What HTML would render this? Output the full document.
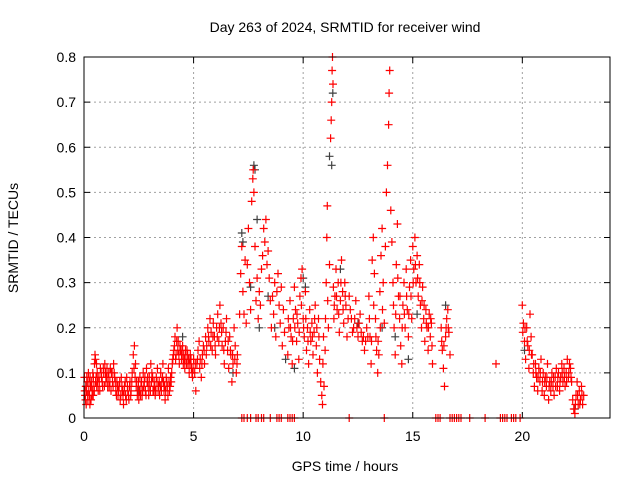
<!DOCTYPE html>
<html><head><meta charset="utf-8"><style>
body{margin:0;background:#fff;}
svg{display:block;font-family:"Liberation Sans",sans-serif;}
</style></head><body>
<svg id="chart" width="640" height="480">
<text x="345" y="32" font-size="14" text-anchor="middle">Day 263 of 2024, SRMTID for receiver wind</text>
<text x="18" y="238" font-size="14" text-anchor="middle" transform="rotate(-90 18 238)">SRMTID / TECUs</text>
<text x="345" y="471" font-size="14" text-anchor="middle">GPS time / hours</text>
<g id="grid"></g>
<g id="ticks"></g>
<g id="black"></g>
<g id="red"></g>
<g id="red2"></g>
<rect x="84" y="57" width="526" height="361" fill="none" stroke="#000" stroke-width="1"/>
</svg>
<script>
const xTicks=[0,5,10,15,20];
const yTicks=[0,0.1,0.2,0.3,0.4,0.5,0.6,0.7,0.8];
const yTickLabels=["0","0.1","0.2","0.3","0.4","0.5","0.6","0.7","0.8"];
const blackPoints=[[7.2,0.41],[7.25,0.39],[7.6,0.29],[7.75,0.56],[7.8,0.55],[7.9,0.44],[8.0,0.20],[8.4,0.27],[8.7,0.20],[9.2,0.13],[9.6,0.11],[10.0,0.31],[10.1,0.29],[11.2,0.58],[11.3,0.56],[11.35,0.72],[11.7,0.33],[12.5,0.21],[13.6,0.20],[14.2,0.18],[14.8,0.13],[15.2,0.23],[16.5,0.25],[0.1,0.07],[2.5,0.06],[4.5,0.18],[6.8,0.1],[20.1,0.15],[22.4,0.02]];
const redPoints=[
[0.02,0.09],[0.05,0.05],[0.08,0.07],[0.1,0.03],[0.12,0.06],[0.15,0.08],[0.18,0.04],[0.2,0.1],[0.22,0.06],[0.25,0.05],[0.28,0.09],[0.3,0.07],[0.32,0.04],[0.35,0.08],[0.38,0.06],[0.4,0.1],[0.42,0.05],[0.45,0.07],[0.48,0.12],[0.5,0.14],[0.52,0.13],[0.55,0.09],[0.58,0.07],[0.6,0.1],[0.65,0.06],[0.7,0.08],[0.75,0.11],[0.8,0.09],[0.85,0.07],[0.9,0.1],[0.95,0.12],[1.0,0.08],[1.05,0.11],[1.1,0.09],[1.15,0.07],[1.2,0.11],[1.25,0.1],[1.3,0.08],[1.35,0.12],[1.4,0.09],[1.45,0.06],[1.5,0.08],[1.55,0.05],[1.6,0.07],[1.65,0.04],[1.7,0.09],[1.75,0.06],[1.8,0.03],[1.85,0.07],[1.9,0.05],[1.95,0.09],[2.0,0.06],[2.05,0.04],[2.1,0.08],[2.15,0.06],[2.2,0.1],[2.25,0.14],[2.3,0.16],[2.35,0.12],[2.4,0.08],[2.45,0.06],[2.5,0.04],[2.55,0.09],[2.6,0.07],[2.65,0.05],[2.7,0.1],[2.75,0.08],[2.8,0.06],[2.85,0.11],[2.9,0.09],[2.95,0.05],[3.0,0.07],[3.05,0.12],[3.1,0.1],[3.15,0.06],[3.2,0.08],[3.25,0.05],[3.3,0.09],[3.35,0.11],[3.4,0.07],[3.45,0.05],[3.5,0.1],[3.55,0.08],[3.6,0.12],[3.65,0.06],[3.7,0.04],[3.75,0.09],[3.8,0.07],[3.85,0.11],[3.9,0.06],[3.95,0.09],[4.0,0.1],[4.05,0.13],[4.1,0.15],[4.15,0.18],[4.2,0.14],[4.25,0.2],[4.3,0.17],[4.35,0.12],[4.4,0.15],[4.45,0.13],[4.5,0.16],[4.55,0.14],[4.6,0.11],[4.65,0.13],[4.7,0.15],[4.75,0.12],[4.8,0.1],[4.85,0.14],[4.9,0.11],[4.95,0.09],[5.0,0.13],[5.05,0.1],[5.1,0.06],[5.15,0.12],[5.2,0.15],[5.25,0.17],[5.3,0.13],[5.35,0.09],[5.4,0.14],[5.45,0.16],[5.5,0.12],[5.55,0.18],[5.6,0.16],[5.65,0.2],[5.7,0.17],[5.75,0.22],[5.8,0.19],[5.85,0.15],[5.9,0.21],[5.95,0.18],[6.0,0.14],[6.05,0.2],[6.1,0.23],[6.15,0.17],[6.2,0.25],[6.25,0.21],[6.3,0.16],[6.35,0.2],[6.4,0.12],[6.45,0.17],[6.5,0.22],[6.55,0.15],[6.6,0.11],[6.65,0.18],[6.7,0.14],[6.75,0.08],[6.8,0.12],[6.85,0.2],[6.9,0.16],[6.95,0.1],[7.0,0.14],[7.1,0.23],[7.15,0.32],[7.2,0.38],[7.25,0.28],[7.3,0.23],[7.35,0.35],[7.4,0.21],[7.45,0.34],[7.5,0.42],[7.55,0.3],[7.6,0.24],[7.65,0.48],[7.7,0.53],[7.72,0.55],[7.75,0.5],[7.8,0.38],[7.85,0.26],[7.9,0.31],[7.95,0.22],[8.0,0.28],[8.05,0.25],[8.1,0.33],[8.15,0.36],[8.2,0.42],[8.25,0.39],[8.3,0.44],[8.35,0.34],[8.4,0.37],[8.45,0.31],[8.5,0.26],[8.55,0.2],[8.6,0.27],[8.65,0.23],[8.7,0.3],[8.75,0.18],[8.8,0.28],[8.85,0.32],[8.9,0.25],[8.95,0.21],[9.0,0.29],[9.05,0.16],[9.1,0.24],[9.15,0.19],[9.3,0.14],[9.35,0.2],[9.4,0.26],[9.45,0.18],[9.5,0.12],[9.55,0.22],[9.6,0.29],[9.65,0.24],[9.7,0.17],[9.75,0.21],[9.8,0.13],[9.85,0.27],[9.9,0.31],[9.95,0.33],[10.0,0.22],[10.05,0.18],[10.1,0.28],[10.15,0.15],[10.2,0.2],[10.25,0.12],[10.3,0.24],[10.35,0.17],[10.4,0.21],[10.45,0.14],[10.5,0.19],[10.55,0.25],[10.6,0.16],[10.65,0.1],[10.7,0.22],[10.75,0.13],[10.8,0.08],[10.85,0.05],[10.88,0.03],[10.9,0.12],[10.93,0.18],[10.95,0.07],[11.0,0.15],[11.02,0.22],[11.05,0.3],[11.08,0.4],[11.1,0.47],[11.12,0.26],[11.15,0.2],[11.2,0.34],[11.25,0.62],[11.28,0.66],[11.3,0.7],[11.32,0.77],[11.34,0.8],[11.36,0.74],[11.38,0.29],[11.4,0.22],[11.45,0.27],[11.5,0.33],[11.55,0.24],[11.6,0.3],[11.65,0.19],[11.7,0.26],[11.75,0.35],[11.8,0.28],[11.85,0.21],[11.9,0.3],[11.95,0.25],[12.0,0.18],[12.1,0.27],[12.2,0.22],[12.3,0.2],[12.4,0.26],[12.5,0.18],[12.6,0.23],[12.7,0.17],[12.8,0.15],[12.9,0.2],[13.0,0.27],[13.05,0.18],[13.1,0.12],[13.15,0.35],[13.2,0.4],[13.25,0.32],[13.3,0.22],[13.35,0.15],[13.4,0.1],[13.45,0.14],[13.5,0.28],[13.55,0.36],[13.6,0.42],[13.65,0.3],[13.7,0.21],[13.75,0.38],[13.8,0.5],[13.85,0.56],[13.9,0.65],[13.92,0.72],[13.95,0.77],[14.0,0.46],[14.05,0.39],[14.1,0.3],[14.15,0.2],[14.2,0.14],[14.25,0.34],[14.3,0.43],[14.35,0.27],[14.4,0.22],[14.45,0.16],[14.5,0.12],[14.55,0.25],[14.6,0.3],[14.65,0.2],[14.7,0.33],[14.75,0.24],[14.8,0.18],[14.85,0.29],[14.9,0.35],[14.95,0.22],[15.0,0.38],[15.05,0.33],[15.1,0.4],[15.15,0.3],[15.2,0.36],[15.25,0.27],[15.3,0.34],[15.35,0.25],[15.4,0.2],[15.45,0.29],[15.5,0.22],[15.55,0.17],[15.6,0.24],[15.65,0.2],[15.7,0.15],[15.75,0.23],[15.8,0.18],[15.85,0.21],[15.9,0.12],[16.3,0.2],[16.35,0.15],[16.4,0.11],[16.45,0.07],[16.5,0.18],[16.55,0.22],[16.6,0.24],[16.65,0.19],[16.7,0.14],[18.8,0.12],[20.0,0.25],[20.05,0.21],[20.1,0.17],[20.15,0.13],[20.2,0.2],[20.25,0.16],[20.3,0.11],[20.35,0.23],[20.4,0.18],[20.45,0.14],[20.5,0.1],[20.55,0.07],[20.6,0.12],[20.65,0.09],[20.7,0.06],[20.75,0.11],[20.8,0.08],[20.85,0.13],[20.9,0.06],[20.95,0.1],[21.0,0.05],[21.05,0.09],[21.1,0.07],[21.15,0.12],[21.2,0.04],[21.25,0.08],[21.3,0.06],[21.35,0.1],[21.4,0.07],[21.45,0.05],[21.5,0.09],[21.55,0.11],[21.6,0.07],[21.65,0.1],[21.7,0.06],[21.75,0.09],[21.8,0.12],[21.85,0.08],[21.9,0.11],[21.95,0.07],[22.0,0.1],[22.05,0.13],[22.1,0.09],[22.15,0.12],[22.2,0.11],[22.25,0.08],[22.3,0.04],[22.35,0.02],[22.4,0.01],[22.45,0.05],[22.5,0.08],[22.55,0.03],[22.6,0.06],[22.65,0.04],[22.7,0.07],[22.75,0.03],[22.8,0.05],
[7.2,0],[7.3,0],[7.45,0],[7.6,0],[7.85,0],[7.95,0],[8.1,0],[8.2,0],[8.5,0],[8.8,0],[8.9,0],[9.0,0],[9.3,0],[9.4,0],[9.5,0],[9.6,0],[12.1,0],[13.7,0],[16.05,0],[16.15,0],[16.25,0],[16.7,0],[16.8,0],[16.9,0],[17.0,0],[17.1,0],[17.2,0],[17.6,0],[18.3,0],[19.0,0],[19.1,0],[19.2,0],[19.3,0],[19.5,0],[19.6,0],[19.7,0],[19.9,0]
];
const redExtra=[
[0.03,0.06],[0.07,0.04],[0.13,0.09],[0.17,0.05],[0.23,0.08],[0.27,0.03],[0.33,0.07],[0.37,0.05],[0.43,0.09],[0.47,0.06],[0.53,0.08],[0.57,0.12],[0.62,0.08],[0.68,0.09],[0.72,0.06],[0.78,0.1],[0.83,0.08],[0.88,0.11],[0.93,0.07],[0.98,0.1],[1.03,0.09],[1.08,0.07],[1.13,0.1],[1.18,0.08],[1.23,0.06],[1.28,0.1],[1.33,0.07],[1.38,0.1],[1.43,0.08],[1.48,0.05],[1.53,0.07],[1.58,0.06],[1.63,0.08],[1.68,0.05],[1.73,0.07],[1.78,0.05],[1.83,0.06],[1.88,0.08],[1.93,0.04],[1.98,0.07],[2.03,0.05],[2.08,0.07],[2.13,0.05],[2.18,0.08],[2.28,0.11],[2.33,0.09],[2.38,0.07],[2.43,0.05],[2.48,0.08],[2.53,0.06],[2.58,0.05],[2.63,0.08],[2.68,0.06],[2.73,0.07],[2.78,0.09],[2.83,0.05],[2.88,0.08],[2.93,0.07],[2.98,0.09],[3.03,0.06],[3.08,0.08],[3.13,0.09],[3.18,0.06],[3.23,0.07],[3.28,0.06],[3.33,0.08],[3.38,0.06],[3.43,0.08],[3.48,0.07],[3.53,0.06],[3.58,0.09],[3.63,0.08],[3.68,0.07],[3.73,0.06],[3.78,0.08],[3.83,0.05],[3.88,0.08],[3.93,0.07],[3.98,0.08],[4.03,0.12],[4.08,0.14],[4.13,0.16],[4.18,0.13],[4.23,0.17],[4.28,0.15],[4.33,0.14],[4.38,0.16],[4.43,0.15],[4.48,0.14],[4.53,0.12],[4.58,0.13],[4.63,0.15],[4.68,0.12],[4.73,0.14],[4.78,0.13],[4.83,0.12],[4.88,0.13],[4.93,0.1],[4.98,0.11],[5.08,0.12],[5.18,0.13],[5.28,0.11],[5.38,0.12],[5.48,0.15],[5.58,0.14],[5.68,0.18],[5.78,0.16],[5.88,0.18],[5.98,0.16],[6.08,0.18],[6.18,0.2],[6.28,0.19],[6.38,0.15],[6.48,0.19],[6.58,0.17],[6.68,0.15],[6.78,0.14],[6.88,0.13],[6.98,0.12],
[9.32,0.22],[9.42,0.2],[9.52,0.17],[9.62,0.2],[9.72,0.23],[9.82,0.19],[9.92,0.25],[10.02,0.2],[10.12,0.22],[10.22,0.17],[10.32,0.19],[10.42,0.18],[10.52,0.22],[10.62,0.2],[10.72,0.18],[11.42,0.25],[11.52,0.27],[11.62,0.23],[11.72,0.3],[11.82,0.24],[11.92,0.27],[12.05,0.22],[12.15,0.24],[12.25,0.19],[12.35,0.22],[12.45,0.2],[12.55,0.21],[12.65,0.19],[12.75,0.18],[12.85,0.17],[12.95,0.18],[13.02,0.22],[13.12,0.17],[13.22,0.25],[13.32,0.18],[13.42,0.17],[13.52,0.2],[13.62,0.24],[14.12,0.25],[14.22,0.23],[14.32,0.31],[14.42,0.27],[14.52,0.2],[14.62,0.23],[14.72,0.27],[14.82,0.23],[14.92,0.27],[15.02,0.3],[15.12,0.34],[15.22,0.31],[15.32,0.3],[15.42,0.26],[15.52,0.25],[15.62,0.21],[15.72,0.2],[15.82,0.22],[15.88,0.16],[16.32,0.17],[16.42,0.16],[16.52,0.2],[16.62,0.2],
[20.02,0.19],[20.12,0.2],[20.22,0.17],[20.32,0.15],[20.42,0.14],[20.52,0.12],[20.62,0.1],[20.72,0.09],[20.82,0.1],[20.92,0.08],[21.02,0.08],[21.12,0.09],[21.22,0.07],[21.32,0.08],[21.42,0.09],[21.52,0.07],[21.62,0.09],[21.72,0.08],[21.82,0.1],[21.92,0.09],[22.02,0.08],[22.12,0.1],[22.22,0.09],[22.42,0.03],[22.52,0.05],[22.62,0.03],[22.72,0.05]
];
const NS='http://www.w3.org/2000/svg';
const X0=84,X1=610,Y0=418,Y1=57,XMAX=24,YMAX=0.8;
function xs(t){return X0+(X1-X0)*t/XMAX;}
function ys(v){return Y0-(Y0-Y1)*v/YMAX;}
const grid=document.getElementById('grid'),ticks=document.getElementById('ticks');
function line(g,x1,y1,x2,y2,st,dash){const l=document.createElementNS(NS,'line');l.setAttribute('x1',x1);l.setAttribute('y1',y1);l.setAttribute('x2',x2);l.setAttribute('y2',y2);l.setAttribute('stroke',st);if(dash)l.setAttribute('stroke-dasharray',dash);g.appendChild(l);return l;}
function text(g,x,y,s,anchor){const t=document.createElementNS(NS,'text');t.setAttribute('x',x);t.setAttribute('y',y);t.setAttribute('font-size','14');t.setAttribute('text-anchor',anchor);t.textContent=s;g.appendChild(t);return t;}
xTicks.forEach(t=>{const x=xs(t);
 if(t>0){const gl=line(grid,x,Y1,x,Y0,'#a0a0a0','2,3');}
 line(ticks,x,Y0,x,Y0-6,'#000');line(ticks,x,Y1,x,Y1+6,'#000');
 const lb=text(ticks,x,Y0+23,String(t),'middle');
 
 
});
yTicks.forEach((v,i)=>{const y=ys(v);
 if(i>0&&i<yTicks.length-1){const gl=line(grid,X0,y,X1,y,'#a0a0a0','2,3');}
 line(ticks,X0,y,X0+6,y,'#000');line(ticks,X1,y,X1-6,y,'#000');
 const lb=text(ticks,X0-8,y+5,yTickLabels[i],'end');
 
 
});
function drawSeries(id,pts,color){const g=document.getElementById(id);let d='';
 pts.forEach(p=>{const x=xs(p[0]),y=ys(p[1]);d+=`M${(x-4).toFixed(1)} ${y.toFixed(1)}h8M${x.toFixed(1)} ${(y-4).toFixed(1)}v8`;});
 const path=document.createElementNS(NS,'path');path.setAttribute('d',d);path.setAttribute('stroke',color);path.setAttribute('stroke-width','1.2');path.setAttribute('fill','none');
 
 
 g.appendChild(path);}
drawSeries('black',blackPoints,'#404040');
drawSeries('red',redPoints,'#ff0000');
drawSeries('red2',redExtra,'#ff0000');
</script>
</body></html>
